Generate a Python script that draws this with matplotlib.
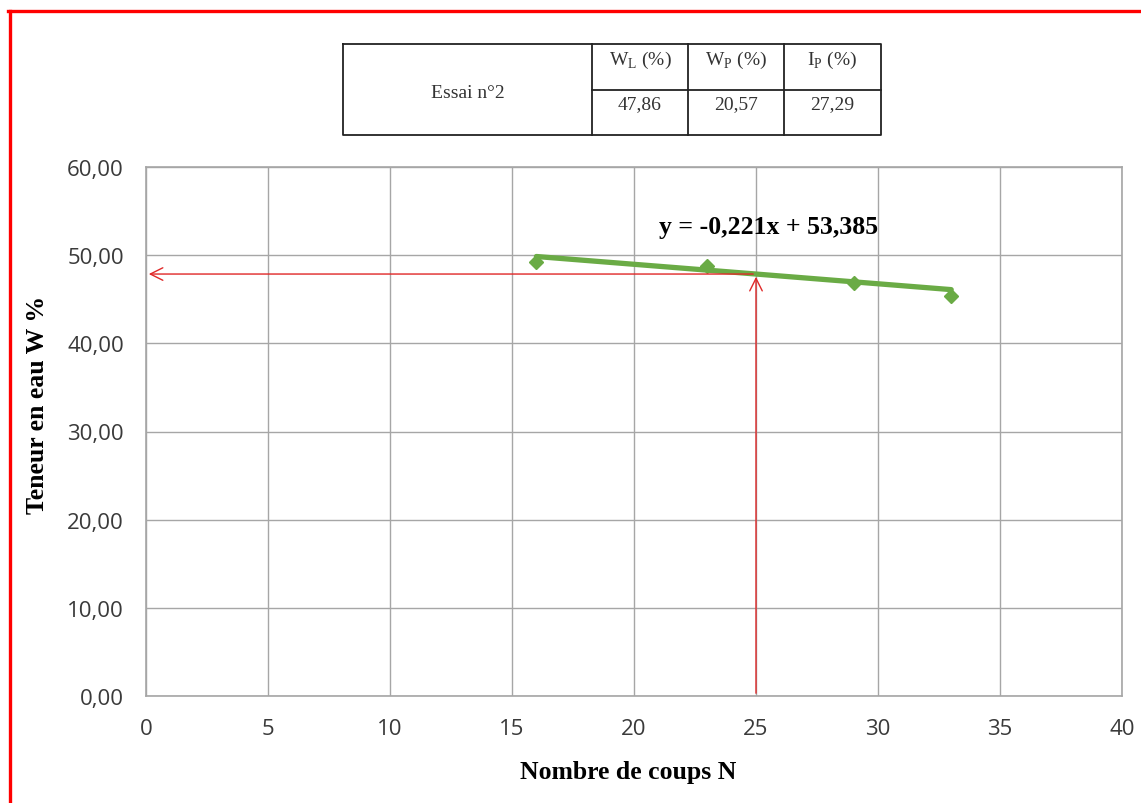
import matplotlib
matplotlib.use("Agg")
import matplotlib.pyplot as plt
from matplotlib.lines import Line2D

# Essai n°2 - limite de liquidité
coups = [16, 23, 29, 33]
teneur = [49.2, 48.75, 46.8, 45.35]
pente = -0.221
origine = 53.385
n_ref = 25
wl = 47.86

table_head = ["W$_{\\mathrm{L}}$ (%)", "W$_{\\mathrm{P}}$ (%)", "I$_{\\mathrm{P}}$ (%)"]
table_vals = ["47,86", "20,57", "27,29"]
x_ticks = [0, 5, 10, 15, 20, 25, 30, 35, 40]
y_ticks = [0, 10, 20, 30, 40, 50, 60]

plt.rcParams["mathtext.fontset"] = "custom"
plt.rcParams["mathtext.rm"] = "Liberation Serif"

W, H = 1141, 804
fig = plt.figure(figsize=(W / 100, H / 100), dpi=100)

def fx(px):
    return px / W

def fy(py):
    return 1 - py / H

# red frame (left + top only)
fig.add_artist(Line2D([fx(9.5), fx(9.5)], [fy(11.5), 0], color="#ff0000", lw=2.4))
fig.add_artist(Line2D([fx(8), 1], [fy(11.5), fy(11.5)], color="#ff0000", lw=2.4))

ax = fig.add_axes([fx(146), fy(697), fx(1122) - fx(146), fy(168) - fy(697)])
ax.set_xlim(0, 40)
ax.set_ylim(0, 60)
ax.set_xticks(x_ticks)
ax.set_yticks(y_ticks)
ax.set_xticklabels([str(v) for v in x_ticks])
ax.set_yticklabels([("%.2f" % v).replace(".", ",") for v in y_ticks])
ax.grid(True, color="#a6a6a6", lw=1)
ax.set_axisbelow(True)
for s in ax.spines.values():
    s.set_color("#a6a6a6")
    s.set_linewidth(1.2)
ax.tick_params(length=0, labelsize=16, colors="#3a3a3a")
ax.tick_params(axis="y", pad=16)
ax.tick_params(axis="x", pad=16)
for lab in ax.get_xticklabels() + ax.get_yticklabels():
    lab.set_family("Open Sans")

# trend line + points
fit_x = [coups[0], coups[-1]]
fit_y = [pente * v + origine for v in fit_x]
ax.plot(fit_x, fit_y, color="#6aab45", lw=3.8, solid_capstyle="round", zorder=3)
ax.plot(coups, teneur, ls="none", marker="D", ms=7.5, color="#6aab45", zorder=4)

# red construction lines
ax.annotate("", xy=(n_ref, wl), xytext=(n_ref, 0),
            arrowprops=dict(arrowstyle="->,head_length=0.9,head_width=0.45", color="#e02828", lw=1), zorder=5)
ax.annotate("", xy=(0, wl), xytext=(n_ref, wl),
            arrowprops=dict(arrowstyle="->,head_length=0.9,head_width=0.45", color="#e02828", lw=1), zorder=5)

ax.text(25.5, 53.3, "y = -0,221x + 53,385", ha="center", va="center",
        family="Liberation Serif", weight="bold", fontsize=18.5)

ax.set_xlabel("Nombre de coups N", family="Liberation Serif", weight="bold", fontsize=18.5)
ax.set_ylabel("Teneur en eau W %", family="Liberation Serif", weight="bold", fontsize=18.5)
ax.xaxis.set_label_coords((628 - 146) / 976, -(773 - 697) / 529)
ax.yaxis.set_label_coords(-(146 - 38) / 976, (697 - 405) / 529)
ax.xaxis.label.set_va("center")
ax.yaxis.label.set_va("center")

# table above the chart
tx = fig.add_axes([0, 0, 1, 1], facecolor="none")
tx.set_xlim(0, W)
tx.set_ylim(H, 0)
tx.axis("off")
x0, x1, y0, y1 = 343, 881, 45, 136
cols = [592, 688, 784]
mid = 91
lc = "#222222"
tx.plot([x0, x1, x1, x0, x0], [y0, y0, y1, y1, y0], color=lc, lw=1.3)
for c in cols:
    tx.plot([c, c], [y0, y1], color=lc, lw=1.3)
tx.plot([cols[0], x1], [mid, mid], color=lc, lw=1.3)
tx.text((x0 + cols[0]) / 2, 93, "Essai n°2", ha="center", va="center",
        family="Liberation Serif", fontsize=14, color="#333333")
edges = cols + [x1]
for i in range(3):
    cx = (edges[i] + edges[i + 1]) / 2
    tx.text(cx, 60, table_head[i], ha="center", va="center",
            family="Liberation Serif", fontsize=14, color="#333333")
    tx.text(cx, 105, table_vals[i], ha="center", va="center",
            family="Liberation Serif", fontsize=14, color="#333333")

fig.savefig("out.png", dpi=100)
